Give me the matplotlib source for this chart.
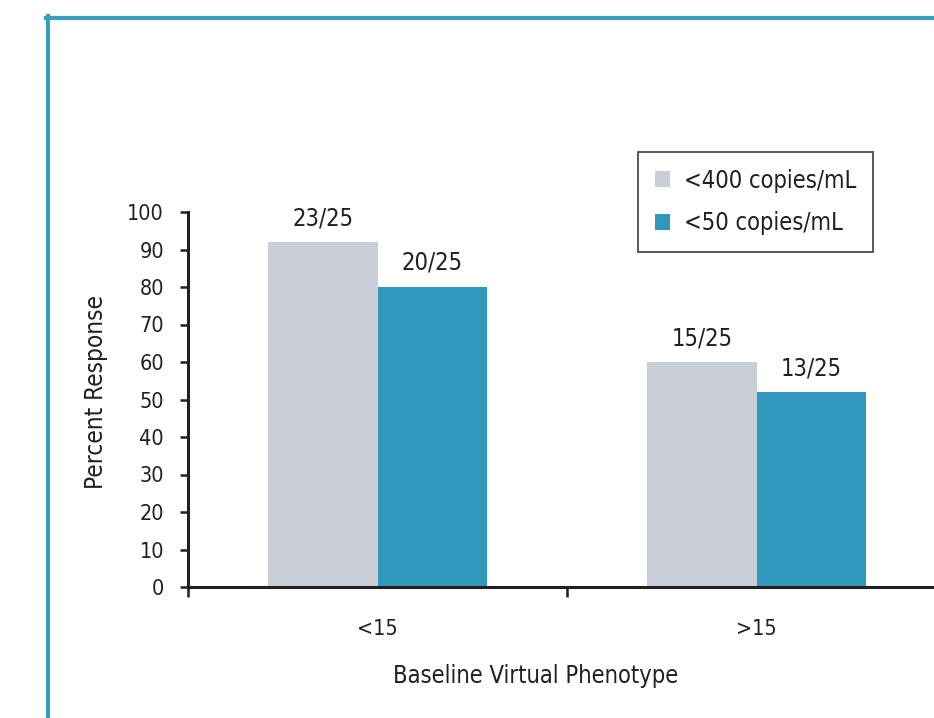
import matplotlib
matplotlib.use("Agg")
import matplotlib.pyplot as plt
import numpy as np
from matplotlib.patches import Patch

categories = ["<15", ">15"]
series_names = ["<400 copies/mL", "<50 copies/mL"]
values_400 = [92, 60]
values_50 = [80, 52]
labels_400 = ["23/25", "15/25"]
labels_50 = ["20/25", "13/25"]
yticks = [0, 10, 20, 30, 40, 50, 60, 70, 80, 90, 100]

GRAY = "#c9cdd6"
TEAL = "#3098bc"
FRAME = "#3a9dc2"
TXT = "#231f20"

plt.rcParams['font.family'] = ['DejaVu Sans']
plt.rcParams['font.stretch'] = 'condensed'

W, H = 934, 718
fig = plt.figure(figsize=(W / 100, H / 100), dpi=100)

# frame lines
fig.add_artist(plt.Line2D([48 / W, 48 / W], [0, 1 - 16 / H], color=FRAME, lw=3.0, transform=fig.transFigure))
fig.add_artist(plt.Line2D([46 / W, 1.0], [1 - 18 / H, 1 - 18 / H], color=FRAME, lw=3.0, transform=fig.transFigure))

ax = fig.add_axes([188 / W, 131 / H, 758 / W, 375 / H])
x = np.arange(len(categories))
bw = 0.2876
b1 = ax.bar(x - bw / 2, values_400, bw, color=GRAY, label=series_names[0])
b2 = ax.bar(x + bw / 2, values_50, bw, color=TEAL, label=series_names[1])

for rect, lab in zip(b1, labels_400):
    ax.text(rect.get_x() + rect.get_width() / 2, rect.get_height() + 3.2, lab,
            ha='center', va='bottom', fontsize=17, color=TXT)
for rect, lab in zip(b2, labels_50):
    ax.text(rect.get_x() + rect.get_width() / 2, rect.get_height() + 3.2, lab,
            ha='center', va='bottom', fontsize=17, color=TXT)

ax.set_xlim(-0.5, 1.5)
ax.set_ylim(0, 100)
ax.set_yticks(yticks)
ax.set_yticklabels([str(v) for v in yticks], fontsize=15.5, color=TXT)
ax.set_xticks([-0.5, 0.5, 1.5])
ax.set_xticklabels([])
ax.set_xticks(x, minor=True)
ax.set_xticklabels(categories, minor=True, fontsize=15.5, color=TXT)
ax.tick_params(axis='x', which='minor', length=0, pad=23)
ax.tick_params(axis='x', which='major', length=7, width=1.8, color=TXT, direction='out')
ax.tick_params(axis='y', length=5.8, width=1.8, color=TXT, direction='out', pad=11.5)

for s in ['top', 'right']:
    ax.spines[s].set_visible(False)
for s in ['left', 'bottom']:
    ax.spines[s].set_linewidth(2.2)
    ax.spines[s].set_color(TXT)

fig.text(96 / W, 1 - 392 / H, "Percent Response", rotation=90, ha='center', va='center',
         fontsize=17.5, color=TXT)
fig.text(536 / W, 1 - 676 / H, "Baseline Virtual Phenotype", ha='center', va='center',
         fontsize=17, color=TXT)

handles = [Patch(facecolor=GRAY, edgecolor='none'), Patch(facecolor=TEAL, edgecolor='none')]
leg = fig.legend(handles, series_names, loc='upper left',
                 bbox_to_anchor=(638 / W, 1 - 152 / H), bbox_transform=fig.transFigure,
                 fontsize=17, frameon=True, fancybox=False, borderpad=0.7,
                 handlelength=0.65, handleheight=0.65, handletextpad=0.6,
                 labelspacing=0.8, borderaxespad=0)
leg.get_frame().set_edgecolor(TXT)
leg.get_frame().set_linewidth(1.3)
for t in leg.get_texts():
    t.set_color(TXT)

fig.savefig("out.png", dpi=100)
